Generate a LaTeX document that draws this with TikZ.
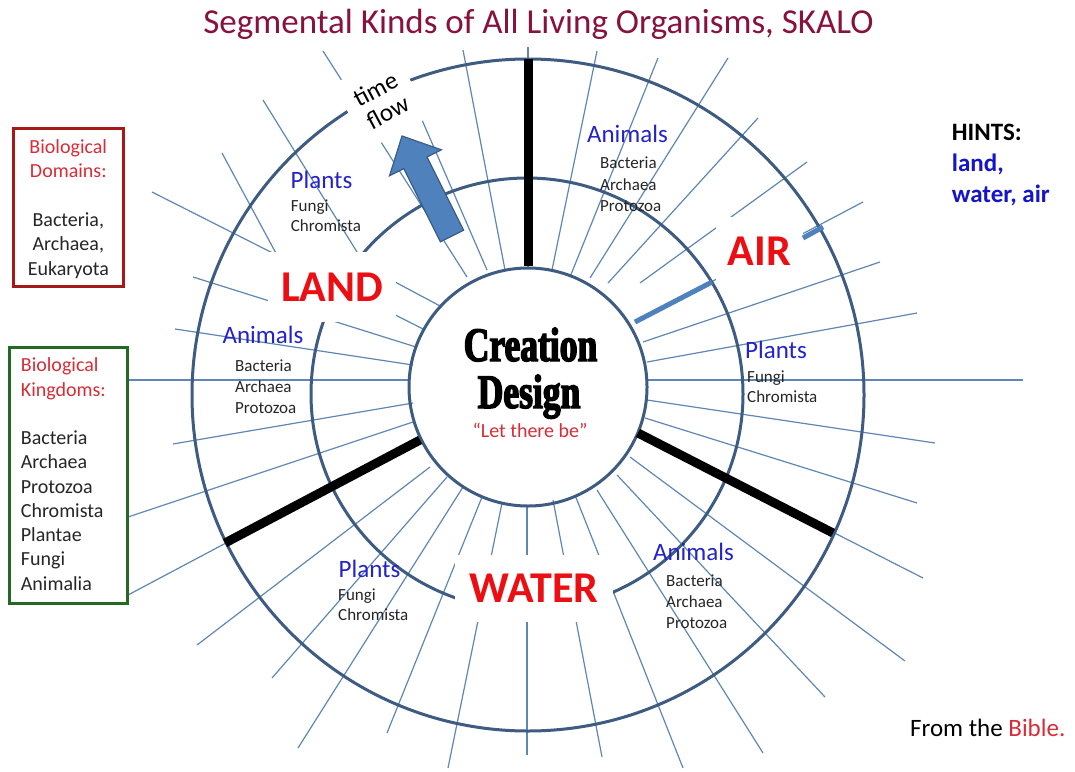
\documentclass[tikz,border=0pt]{standalone}
\usepackage{fontspec}
\setmainfont{Carlito}
\newfontfamily\creafont{Liberation Serif}[UprightFont={* Bold},FakeStretch=0.74,FakeBold=3]
\definecolor{ringcol}{RGB}{62,92,130}
\definecolor{raycol}{RGB}{95,135,180}
\definecolor{tickcol}{RGB}{79,129,189}
\definecolor{arrowline}{RGB}{56,93,138}
\definecolor{regred}{RGB}{235,15,20}
\definecolor{labblue}{RGB}{35,35,200}
\definecolor{titlecol}{RGB}{135,18,60}
\definecolor{txtred}{RGB}{215,45,55}
\definecolor{domframe}{RGB}{165,25,25}
\definecolor{kgframe}{RGB}{35,105,35}
\definecolor{hintblue}{RGB}{20,20,200}
\begin{document}
\begin{tikzpicture}[x=1pt,y=-1pt,
  ray/.style={draw=raycol,line width=1.2pt},
  ring/.style={draw=ringcol,line width=3pt},
  divider/.style={draw=black,line width=9pt},
  bluetick/.style={draw=tickcol,line width=5pt},
  region/.style={fill=white,inner sep=0pt,text=regred,font=\fontsize{44}{50}\selectfont\bfseries},
  kind/.style={anchor=base,inner sep=0pt,text=labblue,font=\fontsize{25}{30}\selectfont},
  member/.style={anchor=base west,inner sep=0pt,text=black!85,font=\fontsize{17}{21}\selectfont},
  boxtxt/.style={inner sep=0pt,font=\fontsize{20}{24}\selectfont,text=black!85},
  hint/.style={anchor=base west,inner sep=0pt,font=\fontsize{25}{30}\selectfont\bfseries}]
\useasboundingbox (0,0) rectangle (1075,771);
\fill[white] (0,0) rectangle (1075,771);

% rays, upper right
\draw[ray] (528,267) -- (528,47);
\draw[ray] (552,270) -- (597,51);
\draw[ray] (570,277) -- (658,58);
\draw[ray] (590,278) -- (728,58);
\draw[ray] (608,283) -- (758,118);
\draw[ray] (640,283) -- (807,162);
\draw[ray] (635,322) -- (863,202);
\draw[ray] (643,342) -- (880,262);
\draw[ray] (647,362) -- (917,313);
\draw[ray] (647,380) -- (1023,380);
% rays, lower right
\draw[ray] (647,400) -- (935,443);
\draw[ray] (645,418) -- (917,503);
\draw[ray] (638,433) -- (923,578);
\draw[ray] (630,457) -- (905,661);
\draw[ray] (617,475) -- (825,697);
\draw[ray] (597,490) -- (763,753);
\draw[ray] (575,495) -- (683,768);
\draw[ray] (553,500) -- (602,757);
\draw[ray] (527,506) -- (527,755);
% rays, lower left
\draw[ray] (502,503) -- (448,768);
\draw[ray] (482,497) -- (387,733);
\draw[ray] (463,487) -- (298,748);
\draw[ray] (447,477) -- (272,678);
\draw[ray] (430,467) -- (197,645);
\draw[ray] (420,440) -- (128,595);
\draw[ray] (413,422) -- (128,517);
\draw[ray] (413,403) -- (173,444);
\draw[ray] (410,380) -- (128,380);
% rays, upper left
\draw[ray] (413,365) -- (175,329);
\draw[ray] (416,347) -- (193,277);
\draw[ray] (425,330) -- (152,192);
\draw[ray] (442,307) -- (380,274);
\draw[ray] (370,273) -- (263,100);
\draw[ray] (285,270) -- (222,153);
\draw[ray] (467,277) -- (323,51);
\draw[ray] (487,270) -- (393,53);
\draw[ray] (505,270) -- (463,50);

% rings
\draw[ring] (528,395) circle[radius=336];
\draw[ring] (527,394) circle[radius=216];
\draw[ring] (528,387) circle[radius=119];

% region labels (white boxes hide what lies behind)
\node[region,minimum width=128,minimum height=70] (land) at (332,287) {LAND};
\node[region,minimum width=87,minimum height=68] (air) at (759.5,251) {AIR};
\node[region,minimum width=158,minimum height=67] (water) at (534,588.5) {WATER};
\node[fill=white,rotate=28,minimum width=70,minimum height=74,inner sep=0pt,align=center,
  font=\fontsize{25}{26}\selectfont] (tflow) at (381.4,100.6) {time\\flow};

% dividers and ticks
\draw[divider] (528,266) -- (528,59);
\draw[divider] (420,440) -- (225,543);
\draw[divider] (638,433) -- (833,533);
\draw[bluetick] (635,322) -- (712,282);
\draw[bluetick] (803,238) -- (823,227);

% time-flow arrow
\filldraw[fill=tickcol,draw=arrowline,line width=1.2pt]
  (463.6,230.2) -- (440.4,241.8) -- (403.8,168.6) -- (389.5,175.8) -- (402,136)
  -- (441.3,149.8) -- (427,157) -- cycle;

% centre
\node[anchor=base,inner sep=0pt,font=\creafont\fontsize{48}{50}\selectfont] (crea) at (530.5,361) {Creation};
\node[anchor=base,inner sep=0pt,font=\creafont\fontsize{48}{50}\selectfont] (desi) at (529,408) {Design};
\node[anchor=base,inner sep=0pt,text=txtred,font=\fontsize{20}{24}\selectfont] (let) at (530,437) {“Let there be”};

% segment labels
\node[kind] (lpl) at (321.5,188) {Plants};
\node[member] (lpf) at (290.7,211.5) {Fungi};
\node[member] (lpc) at (290.7,231.5) {Chromista};
\node[kind] (lan) at (263,343) {Animals};
\node[member] (lab) at (235,371.5) {Bacteria};
\node[member] (laa) at (235,392.5) {Archaea};
\node[member] (lap) at (235,413.5) {Protozoa};
\node[kind] (aan) at (627.5,142) {Animals};
\node[member] (aab) at (600,168.5) {Bacteria};
\node[member] (aaa) at (600,190.5) {Archaea};
\node[member] (aap) at (600,211.5) {Protozoa};
\node[kind] (apl) at (776,358) {Plants};
\node[member] (apf) at (747,382.5) {Fungi};
\node[member] (apc) at (747,402.5) {Chromista};
\node[kind] (wpl) at (369.5,577) {Plants};
\node[member] (wpf) at (338,600.5) {Fungi};
\node[member] (wpc) at (338,620.5) {Chromista};
\node[kind] (wan) at (693.5,560) {Animals};
\node[member] (wab) at (666,586.5) {Bacteria};
\node[member] (waa) at (666,607.5) {Archaea};
\node[member] (wap) at (666,628.5) {Protozoa};

% title
\node[anchor=base,inner sep=0pt,text=titlecol,font=\fontsize{35}{40}\selectfont] (title) at (538.5,33)
  {Segmental Kinds of All Living Organisms, SKALO};

% domains box
\node[draw=domframe,line width=2.5pt,minimum width=110,minimum height=158,inner sep=0pt] (dombox) at (68.3,207.5) {};
\node[boxtxt,anchor=base,text=txtred] (d1) at (68.3,153) {Biological};
\node[boxtxt,anchor=base,text=txtred] (d2) at (68.3,177.4) {Domains:};
\node[boxtxt,anchor=base] (d3) at (68.3,226.2) {Bacteria,};
\node[boxtxt,anchor=base] (d4) at (68.3,250.6) {Archaea,};
\node[boxtxt,anchor=base] (d5) at (68.3,275) {Eukaryota};

% kingdoms box
\node[draw=kgframe,line width=2.5pt,minimum width=118.4,minimum height=255.6,inner sep=0pt] (kgbox) at (68.5,475.5) {};
\node[boxtxt,anchor=base west,text=txtred] (k1) at (20.7,371.7) {Biological};
\node[boxtxt,anchor=base west,text=txtred] (k2) at (20.7,396) {Kingdoms:};
\node[boxtxt,anchor=base west] (k3) at (20.7,444.5) {Bacteria};
\node[boxtxt,anchor=base west] (k4) at (20.7,468.8) {Archaea};
\node[boxtxt,anchor=base west] (k5) at (20.7,493) {Protozoa};
\node[boxtxt,anchor=base west] (k6) at (20.7,517.3) {Chromista};
\node[boxtxt,anchor=base west] (k7) at (20.7,541.6) {Plantae};
\node[boxtxt,anchor=base west] (k8) at (20.7,565.9) {Fungi};
\node[boxtxt,anchor=base west] (k9) at (20.7,590.2) {Animalia};

% hints
\node[hint,text=black] (h1) at (951.7,140) {HINTS:};
\node[hint,text=hintblue] (h2) at (951.7,171) {land,};
\node[hint,text=hintblue] (h3) at (951.7,202) {water, air};

% source
\node[anchor=base west,inner sep=0pt,font=\fontsize{25}{30}\selectfont] (src) at (910,736.5)
  {From the \textcolor{txtred}{Bible.}};
\end{tikzpicture}
\end{document}
